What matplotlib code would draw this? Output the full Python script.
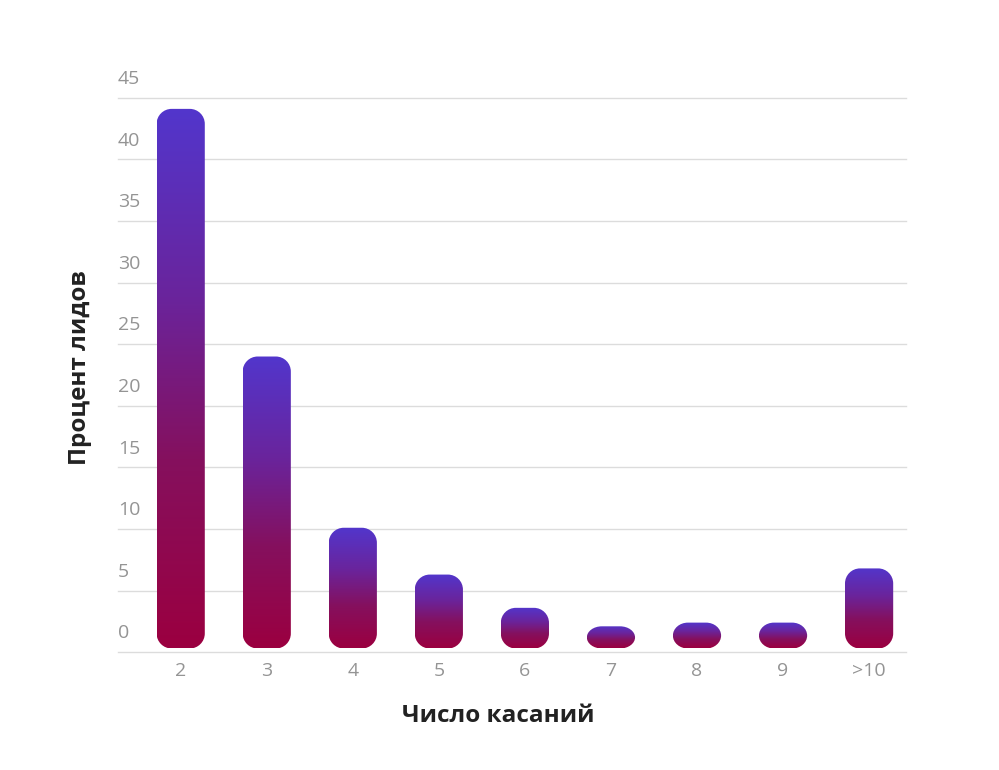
import numpy as np
import matplotlib
matplotlib.use("Agg")
import matplotlib.pyplot as plt
from matplotlib.colors import LinearSegmentedColormap
from matplotlib.path import Path
from matplotlib.patches import PathPatch

plt.rcParams['font.family'] = ['Open Sans', 'DejaVu Sans']

# data
categories = ['2', '3', '4', '5', '6', '7', '8', '9', '>10']
lead_percent = [44.1, 24.0, 10.1, 6.3, 3.6, 2.1, 2.4, 2.4, 6.8]
y_ticks = [0, 5, 10, 15, 20, 25, 30, 35, 40, 45]

FIG_W, FIG_H = 9.99, 7.70
AX_LEFT, AX_RIGHT = 0.118, 0.907
AX_BOTTOM, AX_TOP = 0.153, 0.873
X_MIN, X_MAX = -0.73, 8.43
Y_MIN, Y_MAX = 0, 45
BAR_WIDTH = 0.56
BAR_BASE = 0.3
RADIUS_PX = 15
KAPPA = 0.5523

GRAY_TEXT = '#949494'
GRID = '#dcdcdc'
DARK = '#222222'

cmap = LinearSegmentedColormap.from_list(
    'bar', [(0.0, '#9b0040'), (0.35, '#85105e'), (0.65, '#6a249c'), (1.0, '#5236cc')])


def rounded_rect(x0, y0, w, h, rx, ry):
    # rounded rectangle with (near) circular corners, rx/ry in data units
    ry = min(ry, h / 2)
    rx = min(rx, w / 2)
    kx, ky = rx * KAPPA, ry * KAPPA
    x1, y1 = x0 + w, y0 + h
    verts = [
        (x0 + rx, y0), (x1 - rx, y0),
        (x1 - rx + kx, y0), (x1, y0 + ry - ky), (x1, y0 + ry),
        (x1, y1 - ry),
        (x1, y1 - ry + ky), (x1 - rx + kx, y1), (x1 - rx, y1),
        (x0 + rx, y1),
        (x0 + rx - kx, y1), (x0, y1 - ry + ky), (x0, y1 - ry),
        (x0, y0 + ry),
        (x0, y0 + ry - ky), (x0 + rx - kx, y0), (x0 + rx, y0),
        (x0 + rx, y0),
    ]
    codes = ([Path.MOVETO, Path.LINETO] + [Path.CURVE4] * 3 + [Path.LINETO]
             + [Path.CURVE4] * 3 + [Path.LINETO] + [Path.CURVE4] * 3
             + [Path.LINETO] + [Path.CURVE4] * 3 + [Path.CLOSEPOLY])
    return Path(verts, codes)


def main():
    fig = plt.figure(figsize=(FIG_W, FIG_H), dpi=100)
    ax = fig.add_axes([AX_LEFT, AX_BOTTOM, AX_RIGHT - AX_LEFT, AX_TOP - AX_BOTTOM])
    ax.set_xlim(X_MIN, X_MAX)
    ax.set_ylim(Y_MIN, Y_MAX)

    px_per_x = (AX_RIGHT - AX_LEFT) * FIG_W * 100 / (X_MAX - X_MIN)
    px_per_y = (AX_TOP - AX_BOTTOM) * FIG_H * 100 / (Y_MAX - Y_MIN)
    rx = RADIUS_PX / px_per_x
    ry = RADIUS_PX / px_per_y

    for t in y_ticks:
        ax.axhline(t, color=GRID, lw=1.0, zorder=0, clip_on=False)
        ax.annotate(str(t), xy=(0, t), xycoords=('axes fraction', 'data'),
                    xytext=(0, 7), textcoords='offset points',
                    ha='left', va='bottom', fontsize=14, color=GRAY_TEXT)

    grad = np.linspace(0, 1, 256).reshape(-1, 1)
    for i, v in enumerate(lead_percent):
        x0 = i - BAR_WIDTH / 2
        h = v - BAR_BASE
        path = rounded_rect(x0, BAR_BASE, BAR_WIDTH, h, rx, ry)
        patch = PathPatch(path, facecolor='none', edgecolor='none')
        ax.add_patch(patch)
        im = ax.imshow(grad, cmap=cmap, origin='lower', aspect='auto',
                       extent=(x0, x0 + BAR_WIDTH, BAR_BASE, v), zorder=2)
        im.set_clip_path(patch)

    ax.set_xlim(X_MIN, X_MAX)
    ax.set_ylim(Y_MIN, Y_MAX)

    ax.set_xticks(range(len(categories)))
    ax.set_xticklabels(categories, fontsize=14, color=GRAY_TEXT)
    ax.tick_params(axis='x', length=0, pad=7)
    ax.set_yticks([])
    for s in ax.spines.values():
        s.set_visible(False)

    fig.text(0.080, 0.522, 'Процент лидов', rotation=90, ha='center', va='center',
             fontsize=17.5, fontweight='bold', color=DARK)
    fig.text(0.4985, 0.070, 'Число касаний', ha='center', va='center',
             fontsize=17.5, fontweight='bold', color=DARK)

    fig.savefig('out.png', dpi=100, facecolor='white')


if __name__ == "__main__":
    main()
